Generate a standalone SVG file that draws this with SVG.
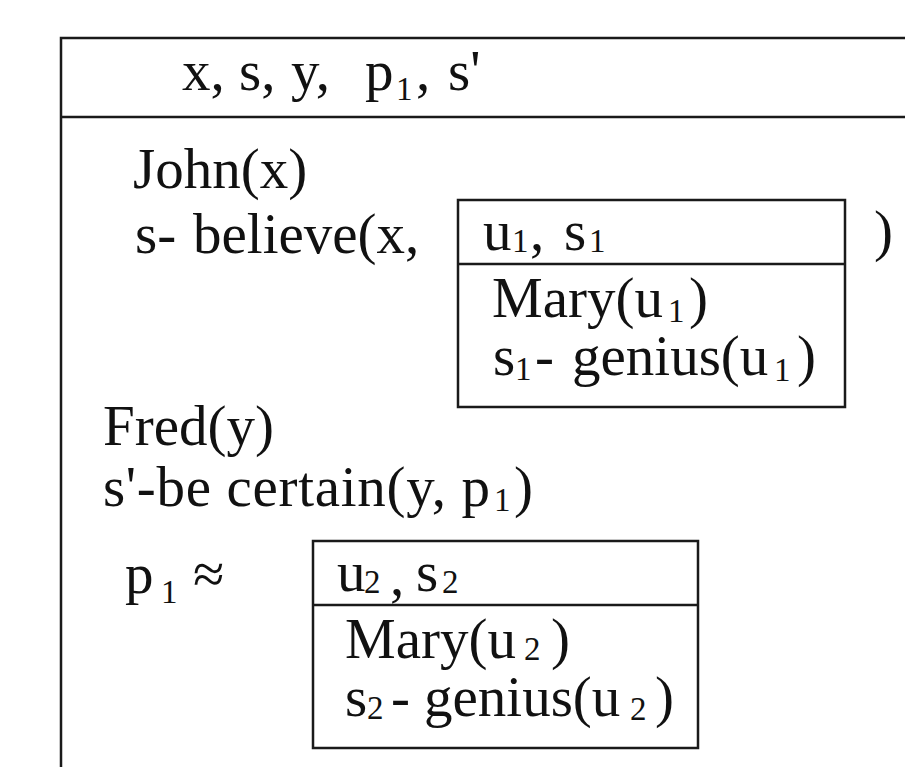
<svg xmlns="http://www.w3.org/2000/svg" width="905" height="767" viewBox="0 0 905 767">
<style>
.t{font-family:"Liberation Serif","Times New Roman",serif;font-size:57px;fill:#111}
.s{font-size:33px}
.ln{stroke:#1a1a1a;stroke-width:2.5;fill:none}
</style>
<rect width="905" height="767" fill="#fff"/>
<g id="outer">
<path class="ln" d="M61,767 V38 H905 M61,117 H905"/>
<text class="t" y="90"><tspan x="182">x,</tspan><tspan x="239">s,</tspan><tspan x="291">y,</tspan><tspan x="365">p</tspan><tspan class="s" x="396" y="100">1</tspan><tspan x="416" y="90">,</tspan><tspan x="448">s'</tspan></text>
<text class="t" x="133" y="188">John(x)</text>
<text class="t" y="253"><tspan x="135">s-</tspan><tspan x="193">believe(x,</tspan></text>
<text class="t" x="874" y="250">)</text>
<text class="t" x="103" y="445">Fred(y)</text>
<text class="t" y="506"><tspan x="103" textLength="387" lengthAdjust="spacing">s'-be certain(y, p</tspan><tspan class="s" x="494" y="511">1</tspan><tspan x="514" y="506">)</tspan></text>
<text class="t" y="593"><tspan x="125">p</tspan><tspan class="s" x="161" y="603">1</tspan><tspan x="193" y="593">≈</tspan></text>
</g>
<g id="box1">
<path class="ln" d="M458,200 H845 V407 H458 Z M458,264 H845"/>
<text class="t" y="250"><tspan x="483">u</tspan><tspan class="s" x="512" y="252">1</tspan><tspan x="530" y="250">,</tspan><tspan x="564">s</tspan><tspan class="s" x="589" y="252">1</tspan></text>
<text class="t" y="317"><tspan x="492">Mary(u</tspan><tspan class="s" x="668" y="322">1</tspan><tspan x="689" y="317">)</tspan></text>
<text class="t" y="375"><tspan x="493">s</tspan><tspan class="s" x="515" y="380">1</tspan><tspan x="535" y="375">-</tspan><tspan x="572">genius(u</tspan><tspan class="s" x="774" y="381">1</tspan><tspan x="797" y="375">)</tspan></text>
</g>
<g id="box2">
<path class="ln" d="M313,541 H698 V748 H313 Z M313,605 H698"/>
<text class="t" y="591"><tspan x="337">u</tspan><tspan class="s" x="364" y="593">2</tspan><tspan x="390" y="595">,</tspan><tspan x="416" y="591">s</tspan><tspan class="s" x="442" y="593">2</tspan></text>
<text class="t" y="658"><tspan x="345">Mary(u</tspan><tspan class="s" x="524" y="660">2</tspan><tspan x="551" y="658">)</tspan></text>
<text class="t" y="716"><tspan x="345">s</tspan><tspan class="s" x="367" y="719">2</tspan><tspan x="391" y="716">-</tspan><tspan x="424">genius(u</tspan><tspan class="s" x="630" y="720">2</tspan><tspan x="655" y="716">)</tspan></text>
</g>
</svg>
